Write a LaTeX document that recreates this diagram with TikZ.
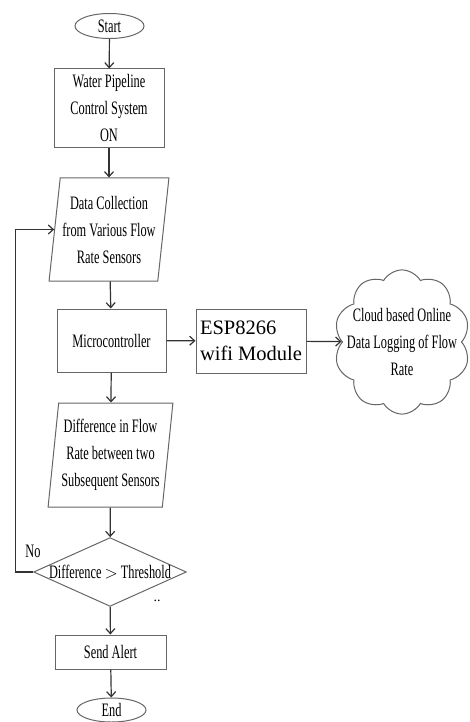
\documentclass[tikz,border=0pt]{standalone}
\usepackage{fontspec}
\setmainfont{Liberation Serif}
\newfontfamily\narrowfont[FakeStretch=0.65]{Liberation Serif}
\usetikzlibrary{shapes.geometric,shapes.symbols,arrows.meta}

\begin{document}
\begin{tikzpicture}[
  x=1pt, y=-1pt,
  font=\narrowfont\fontsize{19}{27}\selectfont,
  line/.style={draw=black!80, line width=1.2pt},
  arrow/.style={line, -{Straight Barb[length=5pt,width=9pt]}},
  box/.style={rectangle, draw=black!60, line width=1pt, align=center, inner sep=0pt},
  term/.style={ellipse, draw=black!60, line width=1pt, inner sep=0pt, minimum width=69pt, minimum height=25pt},
  io/.style={trapezium, trapezium stretches=true, draw=black!60, line width=1pt, align=center, inner sep=0pt},
  decision/.style={diamond, aspect=2.22, draw=black!60, line width=1pt, inner sep=0pt},
  cloudbox/.style={cloud, cloud puffs=10, cloud puff arc=120, aspect=0.92, draw=black!60, line width=1pt, align=center, inner xsep=-13pt, inner ysep=-13pt}
]
\useasboundingbox (0,0) rectangle (470,722);

% ===================== MAIN COLUMN =====================
\node[term] (start) at (109.5,26) {Start};
\node[box, minimum width=110pt, minimum height=79pt] (sys) at (109,108.5)
  {Water Pipeline\\Control System\\ON};
\node[io, trapezium left angle=81, trapezium right angle=99,
      minimum width=120pt, minimum height=103pt] (collect) at (109,229.5)
  {Data Collection\\from Various Flow\\Rate Sensors};
\node[box, minimum width=109pt, minimum height=63pt] (mcu) at (111.5,340.5) {Microcontroller};
\node[io, trapezium left angle=82, trapezium right angle=98,
      minimum width=125pt, minimum height=104pt] (diff) at (110.5,455)
  {Difference in Flow\\Rate between two\\Subsequent Sensors};
\node[decision] (dec) at (110,572) {Difference $>$ Threshold};
\node[box, minimum width=111pt, minimum height=34pt] (alert) at (110.5,652) {Send Alert};
\node[term, minimum height=24pt] (stop) at (111.5,710) {End};

% ===================== RIGHT: online logging =====================
\node[box, align=left, minimum width=110pt, minimum height=64pt,
      font=\rmfamily\fontsize{20.5}{26}\selectfont] (wifi) at (251,341)
  {ESP8266\\wifi Module};
\node[cloudbox] (cloud) at (402,342)
  {Cloud based Online\\Data Logging of Flow\\Rate};

% Labels
\node (no) at (33,551) {No};
\node[font=\rmfamily\fontsize{14}{14}\selectfont] (dots) at (157,601) {..};

% Arrows
\draw[arrow] (start) -- (sys);
\draw[arrow] (sys) -- (collect);
\draw[arrow] (collect) -- (mcu);
\draw[arrow] (mcu) -- (diff);
\draw[arrow] (diff) -- (dec);
\draw[arrow] (dec) -- (alert);
\draw[arrow] (alert) -- (stop);
\draw[arrow] (mcu) -- (wifi);
\draw[arrow] (wifi) -- (cloud);
\draw[arrow] (dec.west) -- ++(-18,0) |- (collect.west);

\end{tikzpicture}
\end{document}
